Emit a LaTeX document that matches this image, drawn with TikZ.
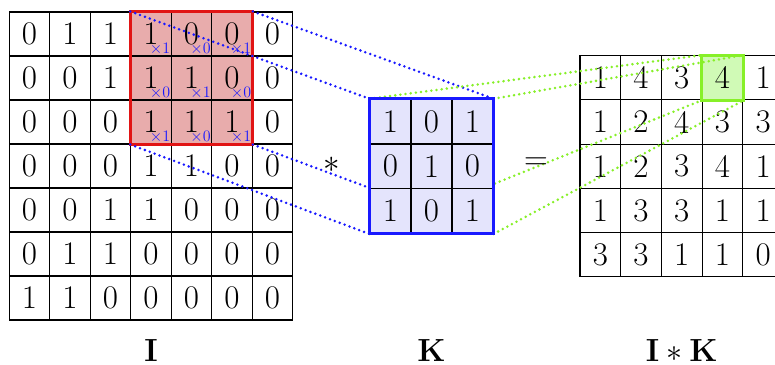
\RequirePackage{fix-cm}
\documentclass[tikz,border=0pt]{standalone}
\definecolor{redfill}{RGB}{232,172,172}
\definecolor{myred}{RGB}{225,20,20}
\definecolor{mygreen}{RGB}{135,240,40}
\definecolor{greenfill}{RGB}{208,250,182}
\definecolor{kfill}{RGB}{228,228,252}
\definecolor{myblue}{RGB}{25,25,255}
\pgfdeclarelayer{front}
\pgfsetlayers{main,front}
\tikzset{
  big/.style={font=\fontsize{33}{38}\selectfont},
  cellI/.style={draw=black, line width=1.1pt, minimum width=40.5pt, minimum height=44pt, inner sep=0pt, big},
  cellK/.style={draw=black, line width=1.1pt, minimum width=41pt, minimum height=44.7pt, inner sep=0pt, big, fill=kfill},
  cellO/.style={draw=black, line width=1.1pt, minimum width=40.7pt, minimum height=44.2pt, inner sep=0pt, big, fill=white},
  mult/.style={anchor=south east, inner sep=1.5pt, text=myblue, font=\fontsize{16}{18}\selectfont},
  bluedots/.style={myblue, line width=2.8pt, line cap=round, dash pattern=on 0pt off 5.2pt},
  greendots/.style={mygreen, line width=2.8pt, line cap=round, dash pattern=on 0pt off 5.2pt},
  thickbox/.style={line width=3pt},
  lab/.style={anchor=base, inner sep=0pt, font=\fontsize{32}{38}\selectfont}
}
\begin{document}
\begin{tikzpicture}[x=1pt,y=-1pt]
\clip (0,0) rectangle (775,364);
\fill[white] (0,0) rectangle (775,364);
% image I
\foreach \row [count=\r] in {{0,1,1,1,0,0,0},{0,0,1,1,1,0,0},{0,0,0,1,1,1,0},{0,0,0,1,1,0,0},{0,0,1,1,0,0,0},{0,1,1,0,0,0,0},{1,1,0,0,0,0,0}}{
  \foreach \v [count=\c] in \row {
    \def\f{white}
    \ifnum\r<4 \ifnum\c>3 \ifnum\c<7 \def\f{redfill}\fi\fi\fi
    \node[cellI, fill=\f] (I-\r-\c) at ({9.3+40.5*(\c-0.5)},{12+44*(\r-0.5)}) {\v};
  }
}
\foreach \row [count=\r] in {{1,0,1},{0,1,0},{1,0,1}}{
  \foreach \v [count=\c] in \row {
    \pgfmathtruncatemacro{\cc}{\c+3}
    \node[mult] (m-\r-\c) at (I-\r-\cc.south east) {$\times\v$};
  }
}
\draw[myred, thickbox] (I-1-4.north west) rectangle (I-3-6.south east);
% output
\foreach \row [count=\r] in {{1,4,3,4,1},{1,2,4,3,3},{1,2,3,4,1},{1,3,3,1,1},{3,3,1,1,0}}{
  \foreach \v [count=\c] in \row {
    \def\f{white}
    \ifnum\r=1 \ifnum\c=4 \def\f{greenfill}\fi\fi
    \node[cellO, fill=\f] (O-\r-\c) at ({580+40.7*(\c-0.5)},{55.7+44.2*(\r-0.5)}) {\v};
  }
}
\draw[mygreen, thickbox] (O-1-4.north west) rectangle (O-1-4.south east);
% kernel (front layer)
\begin{pgfonlayer}{front}
\foreach \row [count=\r] in {{1,0,1},{0,1,0},{1,0,1}}{
  \foreach \v [count=\c] in \row {
    \node[cellK] (K-\r-\c) at ({370+41*(\c-0.5)},{99.3+44.7*(\r-0.5)}) {\v};
  }
}
\draw[myblue, thickbox] (K-1-1.north west) rectangle (K-3-3.south east);
\end{pgfonlayer}
% dotted connectors
\draw[bluedots] (I-1-4.north west) -- (K-1-1.north west);
\draw[bluedots] (I-1-6.north east) -- (K-1-3.north east);
\draw[bluedots] (I-3-4.south west) -- (K-3-1.south west);
\draw[bluedots] (I-3-6.south east) -- (K-3-3.south east);
\draw[greendots] (K-1-1.north west) -- (O-1-4.north west);
\draw[greendots] (K-1-3.north east) -- (O-1-4.north east);
\draw[greendots] (K-3-1.south west) -- (O-1-4.south west);
\draw[greendots] (K-3-3.south east) -- (O-1-4.south east);
% operators and labels
\node[big, inner sep=0pt] (star) at (331.7,165) {$*$};
\node[big, inner sep=0pt] (eq) at (536,164) {$=$};
\node[lab] (labI) at (151,361) {$\mathbf{I}$};
\node[lab] (labK) at (431.5,361) {$\mathbf{K}$};
\node[lab] (labIK) at (681.7,361) {$\mathbf{I}*\mathbf{K}$};
\end{tikzpicture}
\end{document}
